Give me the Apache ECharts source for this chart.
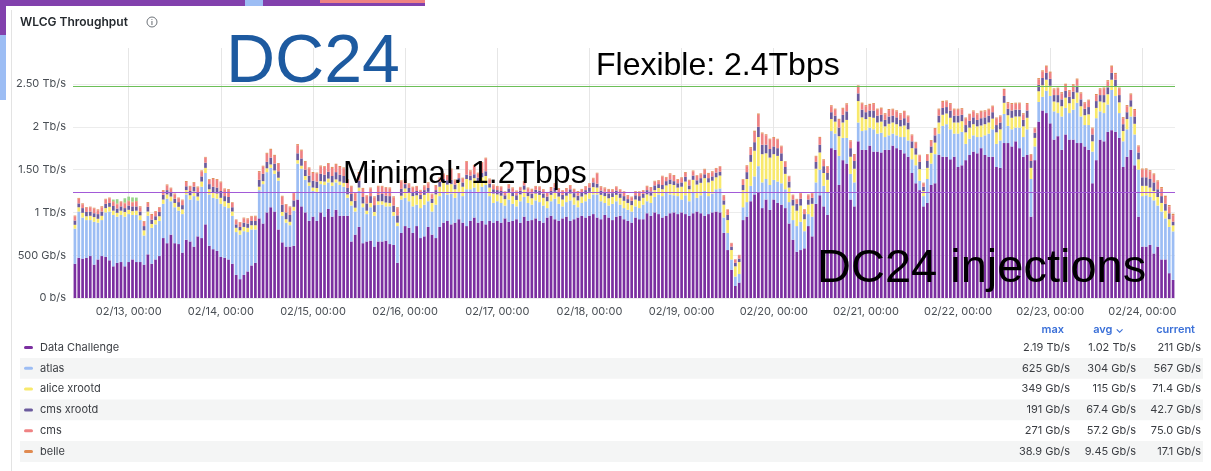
<!DOCTYPE html>
<html>
<head>
<meta charset="utf-8">
<title>WLCG Throughput</title>
<script src="https://cdn.jsdelivr.net/npm/echarts@6/dist/echarts.min.js"></script>
<style>
  html, body { margin: 0; padding: 0; background: #fff; }
  #chart { width: 1211px; height: 471px; }
</style>
</head>
<body>
<div id="chart"></div>
<script>
// x axis: hourly buckets, first bar 02/12 10:00
const tickDays = ["02/12", "02/13", "02/14", "02/15", "02/16", "02/17", "02/18",
  "02/19", "02/20", "02/21", "02/22", "02/23", "02/24"];
const startHour = 10;

// values in Gb/s, one per hour
const dataChallenge = [
  400,470,460,470,490,390,450,490,480,440,370,410,420,370,
  420,450,420,420,390,510,400,450,490,700,640,740,640,630,530,680,660,600,720,700,860,610,570,550,
  480,470,450,400,270,220,270,310,380,410,930,870,1000,1060,1010,800,650,600,600,610,1150,1070,1000,900,
  950,900,1000,950,1040,950,1030,960,960,960,660,740,830,640,660,670,600,660,660,670,630,620,410,760,
  840,820,760,840,700,720,830,740,700,830,880,900,860,880,920,880,840,900,940,880,900,860,900,880,
  900,880,930,890,900,920,880,950,900,910,930,900,880,940,960,920,900,930,950,900,920,940,960,940,
  960,980,940,920,970,940,910,950,960,920,900,880,940,920,920,990,960,1000,980,940,960,990,1000,980,
  1000,980,960,990,1010,990,960,980,1000,1010,1000,760,560,330,140,180,910,950,1130,1210,1240,1050,1150,1030,
  1150,1110,1090,1050,870,680,540,560,580,840,720,1100,1200,1070,970,1750,1730,1320,1610,1570,1150,1070,1830,1730,
  1730,1780,1710,1710,1700,1730,1730,1780,1750,1730,1690,1650,1460,1340,1260,1070,1110,1320,1340,1670,1650,1650,1620,1650,
  1530,1550,1610,1670,1710,1690,1750,1670,1650,1650,1530,1520,1810,1810,1770,1830,1750,1650,1670,950,1610,2060,2190,2160,
  2040,1850,1890,1730,1910,1850,1850,1810,1810,1770,1730,1340,1610,1850,1830,1940,1960,1940,1870,1530,1650,1730,1550,950,
  600,600,620,520,600,450,450,290,211
];
const atlas = [
  410,540,480,440,420,500,430,420,520,570,600,540,550,580,
  560,520,550,490,340,450,420,410,410,400,520,390,420,390,450,530,490,590,420,600,600,600,600,610,
  620,600,600,560,500,520,510,460,420,390,330,460,470,460,440,570,310,280,250,410,420,440,380,410,
  300,340,330,370,310,360,320,360,340,210,420,270,420,420,320,390,360,430,430,400,440,340,430,390,
  330,310,310,250,350,370,300,270,390,360,360,310,360,290,320,310,430,370,350,360,400,460,290,230,
  230,230,150,260,200,150,250,230,210,180,210,220,200,110,170,240,200,140,170,240,170,120,150,190,
  200,230,270,210,140,140,190,180,130,130,130,130,130,130,170,140,150,180,230,250,270,220,200,210,
  150,220,170,240,160,210,290,210,220,260,280,180,200,120,110,100,150,170,180,210,300,300,240,290,
  230,250,250,220,250,230,300,330,200,140,230,250,300,240,260,200,190,340,260,300,300,280,220,220,
  230,210,260,210,230,150,170,140,150,150,190,190,160,210,110,120,280,250,340,250,360,380,350,270,
  390,390,190,190,190,190,130,230,270,320,270,320,340,200,200,160,240,230,300,440,160,230,160,260,
  320,330,270,390,310,310,350,470,310,250,290,370,490,330,330,320,470,420,290,300,320,390,360,550,
  590,600,560,620,480,560,480,540,567
];
const aliceXrootd = [
  45,50,55,45,50,55,45,50,50,55,50,45,50,55,
  50,45,50,55,60,50,45,50,55,50,50,55,50,45,55,50,50,55,45,60,60,60,60,60,
  70,60,60,50,50,50,50,50,50,50,40,35,45,40,40,35,45,40,40,45,40,35,45,40,
  40,45,35,40,45,40,35,40,45,40,50,45,40,45,40,50,45,40,40,45,40,45,40,45,
  110,100,120,110,105,115,110,100,120,110,105,115,110,100,115,110,120,105,110,115,110,105,100,110,
  80,85,75,80,90,75,80,85,80,75,80,85,90,80,75,80,85,80,75,80,85,80,75,80,
  80,85,80,75,80,85,80,75,80,85,80,75,80,85,80,80,85,80,75,80,85,120,120,100,
  150,160,140,150,155,145,150,160,150,140,150,150,150,110,120,140,200,270,280,300,340,330,300,320,
  300,300,260,180,170,170,180,190,140,110,150,160,200,150,150,140,140,230,180,210,200,160,250,160,
  130,125,135,130,130,125,135,130,130,125,135,130,130,125,135,60,130,125,135,130,130,125,135,130,
  130,125,135,130,130,125,135,130,130,125,135,130,130,125,135,130,130,125,135,130,100,125,135,130,
  120,115,125,120,120,115,125,120,120,115,125,120,120,115,125,120,120,115,125,120,120,115,125,120,
  120,110,110,110,100,100,90,90,71
];
const cmsXrootd = [
  50,45,55,50,50,45,55,50,50,45,55,50,50,45,
  50,55,50,45,50,55,50,45,50,55,50,45,50,55,50,45,50,55,50,60,60,60,70,70,
  80,60,70,50,40,40,50,50,50,50,80,85,75,80,80,75,85,80,80,75,80,85,75,80,
  80,75,85,80,80,75,85,80,80,75,85,80,80,75,85,80,80,75,85,80,80,75,85,80,
  50,55,45,50,50,55,45,50,50,55,45,50,50,55,45,50,50,55,45,50,50,55,45,50,
  50,55,45,50,50,55,45,50,50,55,45,50,50,55,45,50,50,55,45,50,50,55,45,50,
  50,55,45,50,50,55,45,50,50,55,45,50,50,55,45,50,50,55,45,50,50,55,45,50,
  50,55,45,50,50,55,45,50,50,55,45,50,60,40,40,40,60,80,80,100,120,110,100,100,
  90,90,90,80,70,70,80,80,60,60,70,80,90,80,80,80,70,100,90,100,100,90,90,90,
  80,75,85,80,80,75,85,80,80,75,85,80,80,75,85,50,80,75,85,80,80,75,85,80,
  80,75,85,80,80,75,85,80,80,75,85,80,80,75,85,80,80,75,85,80,60,75,85,80,
  80,75,85,80,80,75,85,80,80,75,85,80,80,75,85,80,80,75,85,80,80,75,85,80,
  100,100,100,100,90,80,80,70,43
];
const cms = [
  50,55,45,50,50,55,45,50,50,55,45,50,50,55,
  50,45,55,50,50,45,55,50,50,45,55,50,50,45,55,50,50,45,55,60,60,50,90,90,
  100,80,80,50,50,50,50,50,50,50,90,85,95,90,90,85,95,90,90,85,95,90,90,85,
  90,95,85,90,90,95,85,90,90,95,85,90,90,95,85,90,90,95,85,90,90,95,85,90,
  50,45,55,50,50,45,55,50,50,45,55,50,120,50,50,45,150,50,100,50,120,150,50,45,
  40,45,35,40,40,45,35,40,40,45,35,40,40,45,35,40,40,45,35,40,40,45,35,40,
  40,45,120,40,40,45,35,40,40,45,35,40,40,45,35,40,40,45,35,100,40,60,60,40,
  50,45,55,50,50,45,55,50,50,45,55,50,60,40,40,40,60,70,80,120,140,130,110,110,
  100,100,80,60,60,50,50,60,50,50,50,60,80,70,70,70,70,90,70,80,80,70,80,70,
  70,65,75,70,70,65,75,70,70,65,75,70,70,65,75,40,70,65,75,70,70,65,75,70,
  70,65,75,70,70,65,75,70,70,65,75,70,70,65,75,70,70,65,75,70,50,65,75,70,
  70,65,75,70,70,65,75,70,70,65,75,70,70,65,75,70,70,65,75,70,70,65,75,70,
  90,90,90,90,90,90,80,80,75
];
const belle = [
  8,9,10,8,7,9,10,11,9,8,10,9,8,10,
  9,10,8,11,9,10,12,9,8,10,11,9,10,8,9,11,10,9,12,10,8,9,11,10,
  10,9,11,8,7,8,9,10,9,11,12,10,11,13,12,10,9,8,9,11,12,13,11,10,
  11,10,12,9,10,11,13,12,10,9,11,10,12,11,9,10,12,11,10,9,11,12,10,9,
  8,9,10,9,8,10,11,9,10,8,9,10,11,9,8,10,9,11,10,9,8,9,10,11,
  9,8,10,9,11,10,8,9,10,11,9,8,10,9,11,10,9,8,10,9,11,10,9,8,
  10,9,8,10,11,9,10,8,9,10,11,9,8,10,9,11,10,9,10,8,9,11,10,9,
  9,10,11,9,8,10,9,11,10,9,8,10,6,4,3,4,8,10,12,14,15,13,12,11,
  11,10,9,8,7,7,8,9,8,9,10,11,12,10,9,11,12,13,12,14,12,11,13,12,
  12,13,11,12,14,13,12,11,12,13,12,11,10,9,8,7,9,10,11,12,13,12,11,12,
  11,12,13,12,11,12,13,12,11,12,13,12,14,13,12,11,12,13,12,9,10,13,14,15,
  14,13,12,14,13,12,11,13,12,11,12,10,13,14,13,14,15,14,13,12,13,14,13,12,
  12,14,13,15,14,16,15,16,17
];
// green series only present on the first evening
const other = [0,0,0,0,0,0,0,0,0,0,20,50,0,50,45,50,40,0];

// drawn-in target lines (Gb/s)
const flexibleLevel = 2470;
const minimalLevel = 1240;

// legend table
const legendNames = ["Data Challenge", "atlas", "alice xrootd", "cms xrootd", "cms", "belle"];
const legendMax = ["2.19 Tb/s", "625 Gb/s", "349 Gb/s", "191 Gb/s", "271 Gb/s", "38.9 Gb/s"];
const legendAvg = ["1.02 Tb/s", "304 Gb/s", "115 Gb/s", "67.4 Gb/s", "57.2 Gb/s", "9.45 Gb/s"];
const legendCurrent = ["211 Gb/s", "567 Gb/s", "71.4 Gb/s", "42.7 Gb/s", "75.0 Gb/s", "17.1 Gb/s"];

const colors = ["#7b2fa0", "#9cbdf4", "#f8e96c", "#6b5b9d", "#ef8283", "#e08a50", "#98d48a"];

const categories = [];
for (let i = 0; i < dataChallenge.length; i++) {
  const h = startHour + i;
  const hh = h % 24;
  categories.push(tickDays[Math.floor(h / 24)] + ", " + (hh < 10 ? "0" : "") + hh + ":00");
}
const isMidnight = (idx) => categories[idx].endsWith(", 00:00");

function fmtY(v) {
  if (v % 500 !== 0) return "";
  if (v === 0) return "0 b/s";
  if (v < 1000) return v + " Gb/s";
  const t = v / 1000;
  return (Number.isInteger(t) ? t : t.toFixed(2)) + " Tb/s";
}

const seriesData = [dataChallenge, atlas, aliceXrootd, cmsXrootd, cms, belle, other];
const seriesNames = legendNames.concat(["other"]);

const series = seriesData.map((d, k) => ({
  name: seriesNames[k],
  type: "bar",
  stack: "total",
  data: d,
  barCategoryGap: "30%",
  itemStyle: { color: colors[k] },
  silent: true
}));
series[0].markLine = {
  silent: true,
  symbol: "none",
  label: { show: false },
  data: [
    { yAxis: flexibleLevel, lineStyle: { color: "#6cbf58", width: 1.2, type: "solid" } },
    { yAxis: minimalLevel, lineStyle: { color: "#a25ad8", width: 1.2, type: "solid" } }
  ]
};

// legend table + annotations
const g = [];
g.push({ type: "rect", shape: { x: 0, y: 0, width: 425, height: 6 }, style: { fill: "#8241ad" }, silent: true });
g.push({ type: "rect", shape: { x: 245, y: 0, width: 18, height: 6 }, style: { fill: "#9cbdf4" }, silent: true });
g.push({ type: "rect", shape: { x: 320, y: 0, width: 105, height: 3 }, style: { fill: "#ef8283" }, silent: true });
g.push({ type: "rect", shape: { x: 0, y: 0, width: 6, height: 35 }, style: { fill: "#8241ad" }, silent: true });
g.push({ type: "rect", shape: { x: 0, y: 35, width: 6, height: 65 }, style: { fill: "#9cbdf4" }, silent: true });
g.push({ type: "line", shape: { x1: 11.5, y1: 10, x2: 11.5, y2: 471 }, style: { stroke: "#e3e3e3", lineWidth: 1 }, silent: true });
g.push({ type: "text", x: 20, y: 22, style: { text: "WLCG Throughput", font: "600 12px Inter, sans-serif", fill: "#24292e", verticalAlign: "middle" } });
g.push({ type: "circle", shape: { cx: 152, cy: 22, r: 5 }, style: { fill: "none", stroke: "#6e7379", lineWidth: 1 } });
g.push({ type: "text", x: 152, y: 22.5, style: { text: "i", font: "bold 7px Inter, sans-serif", fill: "#6e7379", align: "center", verticalAlign: "middle" } });

const annoFont = "'Liberation Sans', Arial, sans-serif";
g.push({ type: "text", x: 226, y: 29, style: { text: "DC24", font: "68px " + annoFont, fill: "#1d5aa0", verticalAlign: "top" }, z: 100 });
g.push({ type: "text", x: 596, y: 50, style: { text: "Flexible: 2.4Tbps", font: "32px " + annoFont, fill: "#000", verticalAlign: "top" }, z: 100 });
g.push({ type: "text", x: 343, y: 158, style: { text: "Minimal: 1.2Tbps", font: "32px " + annoFont, fill: "#000", verticalAlign: "top" }, z: 100 });
g.push({ type: "text", x: 817, y: 246, style: { text: "DC24 injections", font: "47px " + annoFont, fill: "#000", verticalAlign: "top" }, z: 100 });

const headY = 330;
const hdrFont = "600 11px Inter, sans-serif";
g.push({ type: "text", x: 1064, y: headY, style: { text: "max", font: hdrFont, fill: "#3b70d8", align: "right", verticalAlign: "middle" } });
g.push({ type: "text", x: 1124, y: headY, style: { text: "avg \u2304", font: hdrFont, fill: "#3b70d8", align: "right", verticalAlign: "middle" } });
g.push({ type: "text", x: 1195, y: headY, style: { text: "current", font: hdrFont, fill: "#3b70d8", align: "right", verticalAlign: "middle" } });

legendNames.forEach((name, r) => {
  const cy = 347.5 + r * 20.8;
  if (r % 2 === 1) {
    g.push({ type: "rect", shape: { x: 20, y: cy - 10.4, width: 1183, height: 20.8 }, style: { fill: "#f4f5f5" }, z: -1 });
  }
  g.push({ type: "rect", shape: { x: 24, y: cy - 1.5, width: 9, height: 3, r: 1.5 }, style: { fill: colors[r] } });
  const vf = "11px Inter, sans-serif";
  g.push({ type: "text", x: 40, y: cy, style: { text: name, font: vf, fill: "#3a3d42", verticalAlign: "middle" } });
  g.push({ type: "text", x: 1070, y: cy, style: { text: legendMax[r], font: vf, fill: "#3a3d42", align: "right", verticalAlign: "middle" } });
  g.push({ type: "text", x: 1136, y: cy, style: { text: legendAvg[r], font: vf, fill: "#3a3d42", align: "right", verticalAlign: "middle" } });
  g.push({ type: "text", x: 1201, y: cy, style: { text: legendCurrent[r], font: vf, fill: "#3a3d42", align: "right", verticalAlign: "middle" } });
});

const chart = echarts.init(document.getElementById("chart"), null, { renderer: "canvas" });
chart.setOption({
  animation: false,
  backgroundColor: "#fff",
  grid: { left: 73, right: 36, top: 48, bottom: 173, containLabel: false },
  xAxis: {
    type: "category",
    data: categories,
    axisLine: { show: false },
    axisTick: { show: false },
    axisLabel: { interval: isMidnight, fontSize: 11, color: "#4a4f55", fontFamily: "Inter, sans-serif", margin: 8 },
    splitLine: { show: true, interval: isMidnight, alignWithLabel: true, lineStyle: { color: "#e6e6e6" } }
  },
  yAxis: {
    type: "value",
    min: 0,
    max: 2920,
    interval: 500,
    axisLine: { show: false },
    axisTick: { show: false },
    axisLabel: { formatter: fmtY, fontSize: 11, color: "#4a4f55", fontFamily: "Inter, sans-serif", margin: 7, showMaxLabel: false },
    splitLine: { lineStyle: { color: "#ececec" }, showMaxLine: false }
  },
  series: series,
  graphic: { elements: g }
});
</script>
</body>
</html>
